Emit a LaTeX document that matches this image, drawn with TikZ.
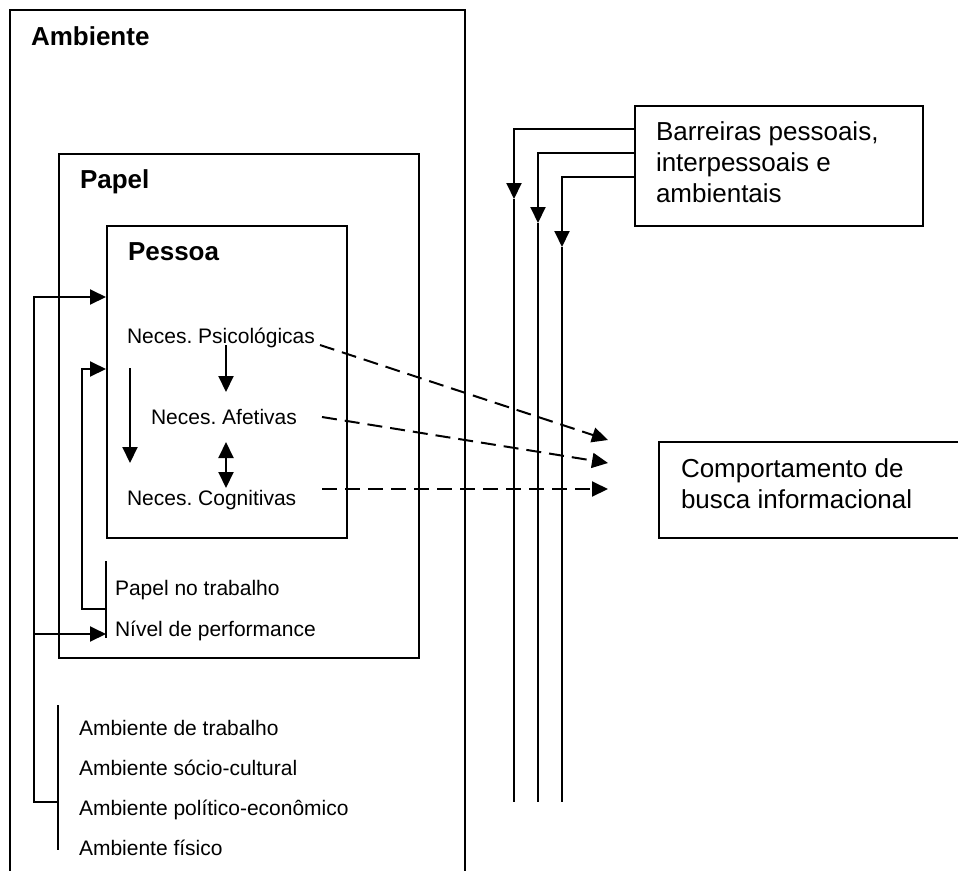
\documentclass[tikz,border=0pt]{standalone}
\usepackage{fontspec}
\setmainfont{Liberation Sans}
\usetikzlibrary{arrows.meta}
\frenchspacing
\begin{document}
\begin{tikzpicture}[x=1pt,y=-1pt,
  line width=2pt,
  boxnode/.style={draw, line width=2pt, anchor=north west, inner sep=0pt},
  bigtxt/.style={font=\fontsize{26}{31}\selectfont, inner sep=0pt, align=left, anchor=north west},
  boldtxt/.style={font=\fontsize{26}{31}\selectfont\bfseries, inner sep=0pt, anchor=base west},
  smalltxt/.style={font=\fontsize{21}{25}\selectfont, inner sep=0pt, anchor=base west},
  arr/.style={-{Triangle[length=16pt,width=15pt]}},
  dblarr/.style={{Triangle[length=16pt,width=15pt]}-{Triangle[length=16pt,width=15pt]}},
  dasharr/.style={dash pattern=on 15pt off 8pt, -{Triangle[length=16pt,width=15pt]}},
]
\useasboundingbox (0,0) rectangle (958,870);
\clip (0,0) rectangle (958,870);

% Ambiente (open at the bottom)
\draw (10,880) -- (10,10) -- (465,10) -- (465,880);
\node[boldtxt] (amb) at (30,45) {Ambiente};

% Papel box
\node[boxnode, minimum width=360pt, minimum height=504pt] (papelbox) at (58,153) {};
\node[boldtxt] (pap) at (79,188) {Papel};

% Pessoa box
\node[boxnode, minimum width=240pt, minimum height=312pt] (pessoabox) at (106,225) {};
\node[boldtxt] (pes) at (127,260) {Pessoa};

% needs
\node[smalltxt] (psi) at (126,343) {Neces. Psicológicas};
\node[smalltxt] (afe) at (150,424) {Neces. Afetivas};
\node[smalltxt] (cog) at (126,505) {Neces. Cognitivas};

% role items
\node[smalltxt] (ptr) at (114,595) {Papel no trabalho};
\node[smalltxt] (niv) at (114,636) {Nível de performance};

% environment items
\node[smalltxt] (a1) at (78,735) {Ambiente de trabalho};
\node[smalltxt] (a2) at (78,775) {Ambiente sócio-cultural};
\node[smalltxt] (a3) at (78,815) {Ambiente político-econômico};
\node[smalltxt] (a4) at (78,855) {Ambiente físico};

% Barriers box
\node[boxnode, minimum width=288pt, minimum height=120pt] (barbox) at (634,105) {};
\node[bigtxt] (bar) at (655,121) {Barreiras pessoais,\\interpessoais e\\ambientais};

% Behaviour box (extends beyond right edge)
\node[boxnode, minimum width=320pt, minimum height=96pt] (compbox) at (658,441) {};
\node[bigtxt] (comp) at (680,458) {Comportamento de\\busca informacional};

% brackets
\draw (106,561) -- (106,638);
\draw (58,705) -- (58,850);

% arrows inside Pessoa
\coordinate (psidown) at (226,345);
\coordinate (afeup) at (226,392);
\draw[arr] (psidown) -- (afeup);
\coordinate (ldtop) at (130,368);
\coordinate (ldbot) at (130,463);
\draw[arr] (ldtop) -- (ldbot);
\coordinate (dbtop) at (226,442);
\coordinate (dbbot) at (226,488);
\draw[dblarr] (dbtop) -- (dbbot);

% left feedback loops
\coordinate (outtop) at (34,297);
\coordinate (outbot) at (34,802);
\draw[arr] (outbot -| 58,0) -- (outbot) -- (outtop) -- (pessoabox.west |- outtop);
\draw[arr] (34,634) -- (106,634);
\coordinate (intop) at (82,369);
\coordinate (inbot) at (82,609);
\draw[arr] (106,609) -- (inbot) -- (intop) -- (pessoabox.west |- intop);

% barrier connectors
\coordinate (b1) at (514,199);
\coordinate (b2) at (538,223);
\coordinate (b3) at (562,247);
\draw[arr] (barbox.west |- 0,129) -| (b1);
\draw[arr] (barbox.west |- 0,153) -| (b2);
\draw[arr] (barbox.west |- 0,177) -| (b3);
\draw (b1) -- (514,802);
\draw (b2) -- (538,802);
\draw (b3) -- (562,802);

% dashed arrows to behaviour
\coordinate (psiout) at (320,345);
\coordinate (afeout) at (322,417);
\coordinate (cogout) at (322,489);
\coordinate (t1) at (608,440);
\coordinate (t2) at (608,463);
\coordinate (t3) at (608,489);
\draw[dasharr] (psiout) -- (t1);
\draw[dasharr] (afeout) -- (t2);
\draw[dasharr] (cogout) -- (t3);
\end{tikzpicture}
\end{document}
